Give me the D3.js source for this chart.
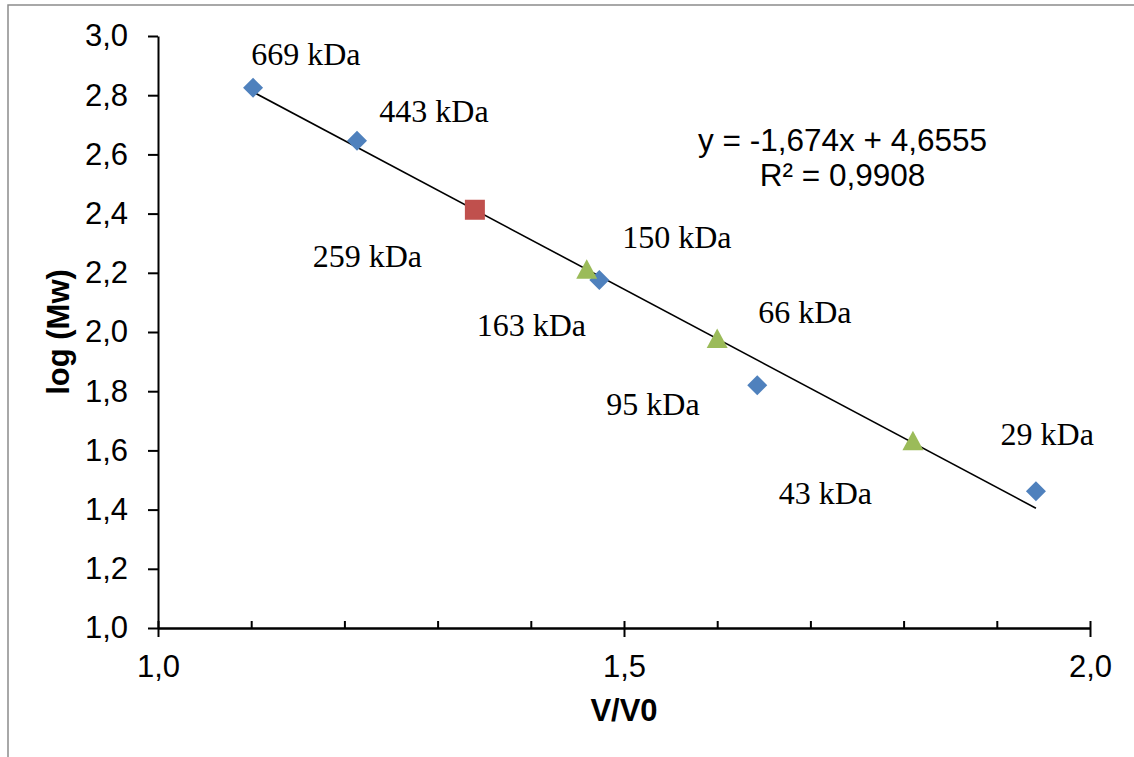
<!DOCTYPE html>
<html>
<head>
<meta charset="utf-8">
<script src="https://cdn.jsdelivr.net/npm/d3@7"></script>
<style>
  body { margin: 0; background: #fff; }
  svg { display: block; }
</style>
</head>
<body>
<svg id="chart"></svg>
<script>
// standards (blue diamonds): V/V0 and log(Mw)
const stdX = [1.102, 1.2135, 1.4735, 1.643, 1.942];
const stdY = [2.825, 2.646, 2.176, 1.820, 1.462];
// samples (green triangles)
const smpX = [1.460, 1.600, 1.810];
const smpY = [2.212, 1.978, 1.633];
// red square
const sqX = [1.340];
const sqY = [2.413];

// trendline y = -1,674x + 4,6555
const slope = -1.674;
const intercept = 4.6555;

// point labels, anchored in data coordinates (left / baseline)
const labelText = ["669 kDa", "443 kDa", "259 kDa", "150 kDa", "163 kDa", "66 kDa", "95 kDa", "43 kDa", "29 kDa"];
const labelX = [1.1, 1.2375, 1.166, 1.498, 1.342, 1.644, 1.481, 1.666, 1.904];
const labelY = [2.902, 2.709, 2.220, 2.284, 1.987, 2.030, 1.718, 1.418, 1.618];

const yTicks = [1.0, 1.2, 1.4, 1.6, 1.8, 2.0, 2.2, 2.4, 2.6, 2.8, 3.0];
const xMajor = [1.0, 1.5, 2.0];
const xMinor = [1.1, 1.2, 1.3, 1.4, 1.6, 1.7, 1.8, 1.9];

const width = 1134, height = 757;
const margin = {top: 36, right: 44, bottom: 129, left: 158};

const svg = d3.select("#chart").attr("width", width).attr("height", height);

// outer frame (only top and left visible)
svg.append("path")
    .attr("d", `M8,${height} V5 H${width}`)
    .attr("fill", "none")
    .attr("stroke", "#8c8c8c")
    .attr("stroke-width", 1.5);

const xScale = d3.scaleLinear().domain([1.0, 2.0]).range([margin.left, width - margin.right]);
const yScale = d3.scaleLinear().domain([1.0, 3.0]).range([height - margin.bottom, margin.top]);

const fmt = d => d3.format(".1f")(d).replace(".", ",");
const sans = "'Liberation Sans', Arial, sans-serif";
const serif = "'Liberation Serif', 'Times New Roman', serif";

// y axis
svg.append("g")
    .attr("transform", `translate(${margin.left},0)`)
    .call(d3.axisLeft(yScale).tickValues(yTicks).tickFormat(fmt).tickSize(10).tickSizeOuter(0).tickPadding(20));

// x axis minor ticks (inside)
svg.append("g")
    .attr("transform", `translate(0,${height - margin.bottom})`)
    .call(d3.axisBottom(xScale).tickValues(xMinor).tickFormat("").tickSize(-7).tickSizeOuter(0));

// x axis major ticks (cross)
const xAxis = svg.append("g")
    .attr("transform", `translate(0,${height - margin.bottom})`)
    .call(d3.axisBottom(xScale).tickValues(xMajor).tickFormat(fmt).tickSize(9).tickSizeOuter(0).tickPadding(18));
xAxis.selectAll(".tick line").attr("y1", -7);

svg.selectAll(".domain, .tick line")
    .attr("stroke", "#000")
    .attr("stroke-width", 2);
svg.selectAll(".tick text")
    .attr("font-family", sans)
    .attr("font-size", 31)
    .attr("fill", "#000");

// axis titles
svg.append("text")
    .attr("x", xScale(1.5))
    .attr("y", 721)
    .attr("text-anchor", "middle")
    .attr("font-family", sans)
    .attr("font-weight", "bold")
    .attr("font-size", 31)
    .text("V/V0");

svg.append("text")
    .attr("transform", `translate(69,${yScale(2.0)}) rotate(-90)`)
    .attr("text-anchor", "middle")
    .attr("font-family", sans)
    .attr("font-weight", "bold")
    .attr("font-size", 31)
    .text("log (Mw)");

// trendline over the standards range
const tx = d3.extent(stdX);
svg.append("line")
    .attr("x1", xScale(tx[0]))
    .attr("y1", yScale(slope * tx[0] + intercept))
    .attr("x2", xScale(tx[1]))
    .attr("y2", yScale(slope * tx[1] + intercept))
    .attr("stroke", "#000")
    .attr("stroke-width", 1.6);

// diamonds
svg.selectAll(".std")
    .data(stdX.map((x, i) => ({x, y: stdY[i]})))
    .enter().append("path")
    .attr("class", "std")
    .attr("transform", d => `translate(${xScale(d.x)},${yScale(d.y)})`)
    .attr("d", "M0,-10 L10,0 L0,10 L-10,0 Z")
    .attr("fill", "#4F81BD");

// triangles
svg.selectAll(".smp")
    .data(smpX.map((x, i) => ({x, y: smpY[i]})))
    .enter().append("path")
    .attr("class", "smp")
    .attr("transform", d => `translate(${xScale(d.x)},${yScale(d.y)})`)
    .attr("d", "M0,-10 L10.5,9.5 L-10.5,9.5 Z")
    .attr("fill", "#9BBB59");

// square
svg.selectAll(".sq")
    .data(sqX.map((x, i) => ({x, y: sqY[i]})))
    .enter().append("rect")
    .attr("class", "sq")
    .attr("x", d => xScale(d.x) - 10)
    .attr("y", d => yScale(d.y) - 10)
    .attr("width", 20)
    .attr("height", 20)
    .attr("fill", "#C0504D");

// point labels
svg.selectAll(".lbl")
    .data(labelText.map((t, i) => ({t, x: labelX[i], y: labelY[i]})))
    .enter().append("text")
    .attr("class", "lbl")
    .attr("x", d => xScale(d.x))
    .attr("y", d => yScale(d.y))
    .attr("font-family", serif)
    .attr("font-size", 32)
    .attr("fill", "#000")
    .text(d => d.t);

// equation
svg.append("text")
    .attr("x", xScale(1.7345))
    .attr("y", yScale(2.611))
    .attr("text-anchor", "middle")
    .attr("font-family", sans)
    .attr("font-size", 31.5)
    .text("y = -1,674x + 4,6555");
svg.append("text")
    .attr("x", xScale(1.7345))
    .attr("y", yScale(2.493))
    .attr("text-anchor", "middle")
    .attr("font-family", sans)
    .attr("font-size", 31.5)
    .text("R² = 0,9908");
</script>
</body>
</html>
